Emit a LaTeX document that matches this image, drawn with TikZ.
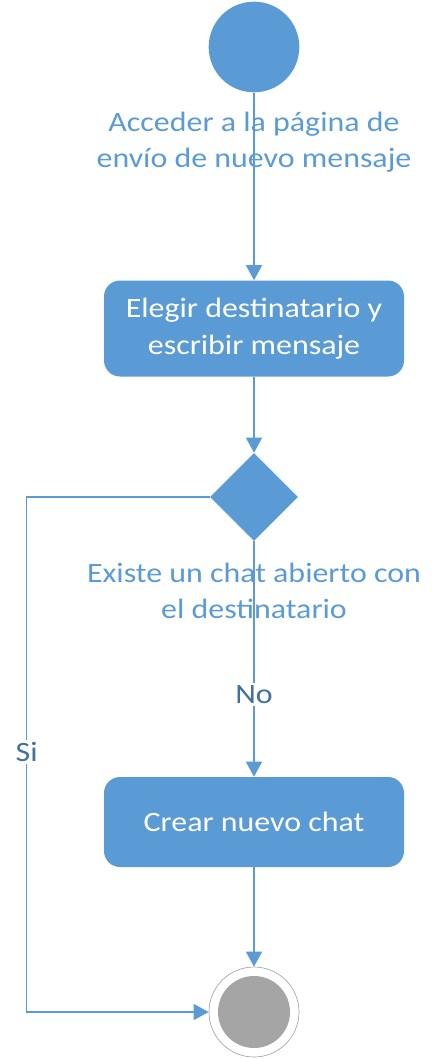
\documentclass[tikz,border=0pt]{standalone}
\usepackage{fontspec}
\setmainfont{Carlito}[FakeStretch=1.14]
\usepackage{tikz}
\usetikzlibrary{calc}
\usetikzlibrary{positioning}
\usetikzlibrary{shapes.geometric}
\usetikzlibrary{arrows.meta}
\definecolor{flowblue}{RGB}{91,155,213}
\definecolor{labelblue}{RGB}{65,113,156}
\definecolor{endgray}{RGB}{165,165,165}
\tikzstyle{startnode} = [circle, fill=flowblue, minimum size=68pt, inner sep=0pt]
\tikzstyle{endnode} = [circle, draw=endgray, line width=0.5pt, minimum size=67.5pt, inner sep=0pt]
\tikzstyle{actnode} = [rectangle, rounded corners=12pt, fill=flowblue, text=white, minimum width=225pt, align=center, font=\fontsize{21}{28}\selectfont]
\tikzstyle{decnode} = [diamond, fill=flowblue, minimum size=66pt, inner sep=0pt]
\tikzstyle{flowlabel} = [text=flowblue, align=center, font=\fontsize{21}{27}\selectfont]
\tikzstyle{guard} = [fill=white, text=labelblue, inner sep=2pt, font=\fontsize{21}{27}\selectfont]
\tikzstyle{flow} = [draw=flowblue, line width=1pt, -{Triangle[length=11.25pt, width=12pt]}]

\begin{document}
\begin{tikzpicture}[x=0.75pt, y=-0.75pt]
\useasboundingbox (0,0) rectangle (438,1059);
\node[startnode] (start) at (254,47) {};
\node[flowlabel] (access) at ($(start)+(0,95)$) {Acceder a la página de\\envío de nuevo mensaje};
\node[actnode, minimum height=72pt] (choose) at ($(start)+(0,281.5)$) {Elegir destinatario y\\escribir mensaje};
\node[decnode] (exists) at ($(choose)+(0,168.5)$) {};
\node[flowlabel] (question) at ($(exists)+(0,94)$) {Existe un chat abierto con\\el destinatario};
\node[actnode, minimum height=67.5pt] (create) at ($(exists)+(0,325)$) {Crear nuevo chat};
\node[endnode] (finish) at ($(create)+(0,190)$) {};
\fill[endgray] (finish) circle (27pt);
\coordinate (upleft) at ($(exists.west)+(-183,0)$);
\coordinate (downleft) at (upleft |- finish);
\draw[flow] (start) -- (choose);
\draw[flow] (choose) -- (exists);
\draw[flow] (exists) -- node[guard, pos=0.65] (no) {No} (create);
\draw[flow] (create) -- (finish);
\draw[flow] (exists.west) -- (upleft) -- node[guard, pos=0.495] (si) {Si} (downleft) -- (finish);
\end{tikzpicture}
\end{document}
